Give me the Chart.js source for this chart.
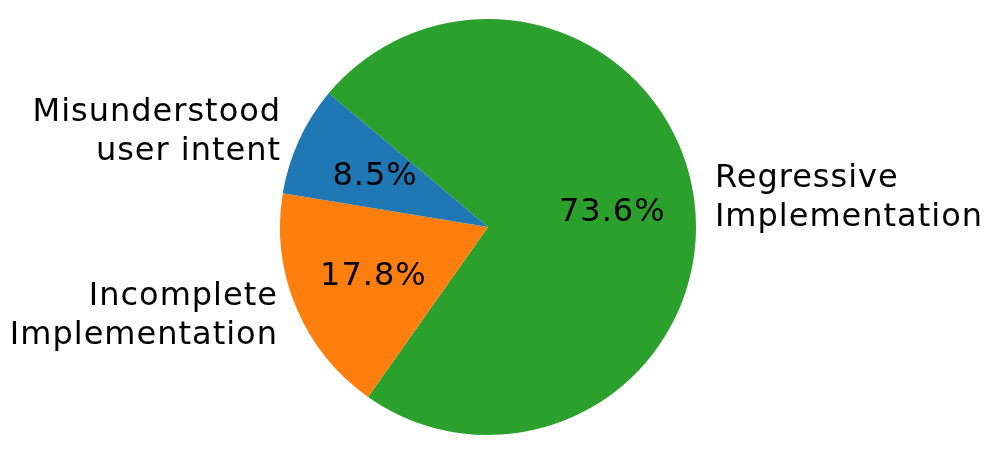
<!DOCTYPE html>
<html>
<head>
<meta charset="utf-8">
<script src="https://cdn.jsdelivr.net/npm/chart.js@4/dist/chart.umd.min.js"></script>
<style>
html,body{margin:0;padding:0;background:#fff;}
#wrap{width:996px;height:451px;}
</style>
</head>
<body>
<div id="wrap"><canvas id="c" width="996" height="451"></canvas></div>
<script>
// Data in matplotlib (counter-clockwise) order
const categories = [["Misunderstood", "user intent"], ["Incomplete", "Implementation"], ["Regressive", "Implementation"]];
const shares = [8.5, 17.8, 73.6];
const colors = ["#1f77b4", "#ff7f0e", "#2ca02c"];

// Chart.js draws clockwise, so reverse the order
const cLabels = categories.slice().reverse();
const cValues = shares.slice().reverse();
const cColors = colors.slice().reverse();

const FONT = '32px "DejaVu Sans"';
const LINE_H = 38.6;

const labelPlugin = {
  id: 'pieLabels',
  afterDatasetsDraw(chart) {
    const ctx = chart.ctx;
    const meta = chart.getDatasetMeta(0);
    const ds = chart.data.datasets[0];
    ctx.save();
    ctx.font = FONT;
    ctx.letterSpacing = '1px';
    ctx.fillStyle = '#000';
    ctx.textBaseline = 'alphabetic';
    meta.data.forEach((arc, i) => {
      const p = arc.getProps(['x', 'y', 'startAngle', 'endAngle', 'outerRadius'], true);
      const mid = (p.startAngle + p.endAngle) / 2;
      const cx = Math.cos(mid), cy = Math.sin(mid);
      // outer label
      const lx = p.x + 1.1 * p.outerRadius * cx;
      const ly = p.y + 1.1 * p.outerRadius * cy;
      const lines = chart.data.labels[i];
      const right = cx < 0;
      ctx.textAlign = right ? 'right' : 'left';
      lines.forEach((t, k) => {
        ctx.fillText(t, lx + (right ? 1 : 0), ly + (k - (lines.length - 1) / 2) * LINE_H + 9);
      });
      // percentage
      const px = p.x + 0.6 * p.outerRadius * cx;
      const py = p.y + 0.6 * p.outerRadius * cy;
      ctx.textAlign = 'center';
      ctx.fillText(ds.data[i].toFixed(1) + '%', px + 0.5, py + 10);
    });
    ctx.restore();
  }
};

new Chart(document.getElementById('c'), {
  type: 'pie',
  data: {
    labels: cLabels,
    datasets: [{
      data: cValues,
      backgroundColor: cColors,
      borderWidth: 0,
      hoverOffset: 0,
      offset: 0
    }]
  },
  options: {
    responsive: false,
    animation: false,
    rotation: -50,
    layout: { padding: { top: 19, bottom: 16, left: 0, right: 20 } },
    plugins: { legend: { display: false }, tooltip: { enabled: false } },
    events: []
  },
  plugins: [labelPlugin]
});
</script>
</body>
</html>
